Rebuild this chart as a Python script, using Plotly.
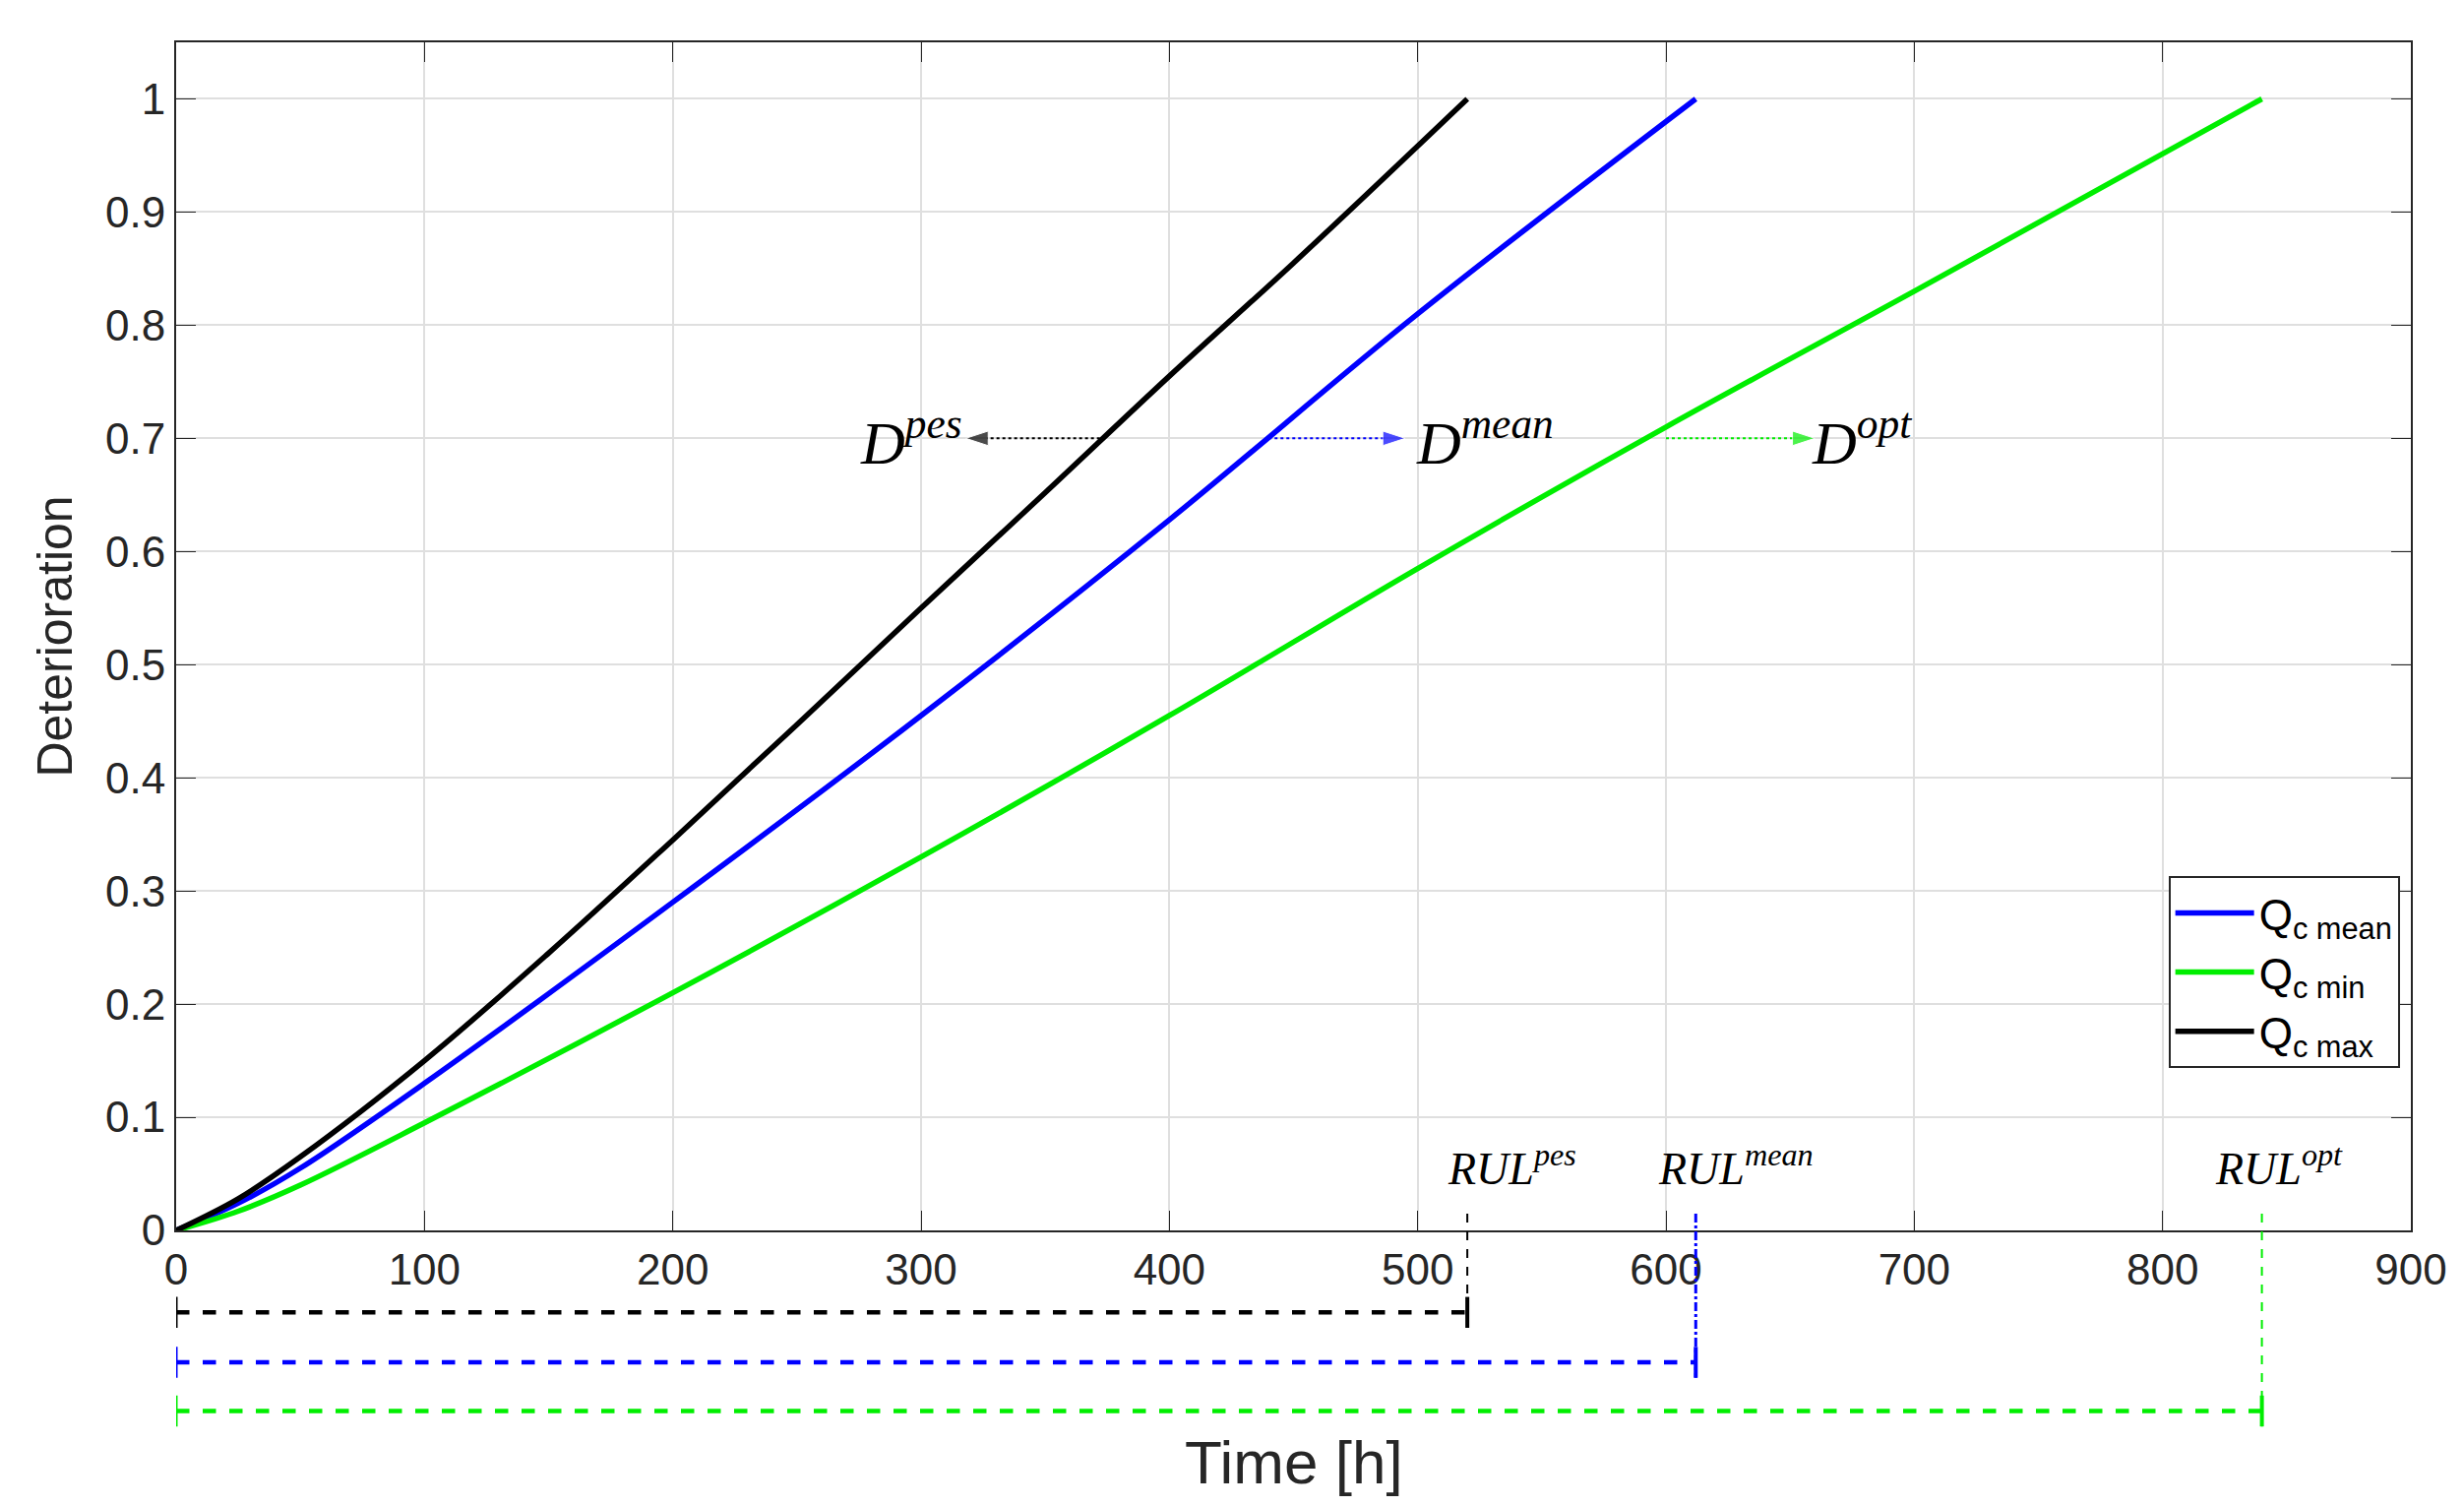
import plotly.graph_objects as go

x_max = [0, 25, 50, 100, 150, 200, 250, 300, 350, 400, 450, 520]
d_max = [0, 0.028, 0.065, 0.15, 0.245, 0.345, 0.447, 0.55, 0.652, 0.755, 0.855, 1.0]
x_mean = [0, 25, 50, 100, 200, 300, 400, 500, 612]
d_mean = [0, 0.024, 0.055, 0.13, 0.29, 0.455, 0.628, 0.81, 1.0]
x_min = [0, 25, 50, 100, 200, 300, 400, 500, 600, 700, 840]
d_min = [0, 0.017, 0.04, 0.095, 0.21, 0.33, 0.455, 0.585, 0.71, 0.83, 1.0]

rul_names = ["pes", "mean", "opt"]
rul_values = [520, 612, 840]
rul_colors = ["black", "blue", "#00ee00"]
rul_label_x = [538, 628, 847]
rul_bar_y = [-0.069, -0.111, -0.152]

d_labels = ["pes", "mean", "opt"]
d_arrow_from = [372, 440, 600]
d_arrow_to = [318, 495, 660]
d_text_x = [296, 527, 679]
d_level = 0.7

fig = go.Figure()
fig.add_trace(go.Scatter(x=x_mean, y=d_mean, mode="lines", line=dict(color="blue", width=5.5, shape="spline"),
                         name="Q<sub>c mean</sub>"))
fig.add_trace(go.Scatter(x=x_min, y=d_min, mode="lines", line=dict(color="#00ee00", width=5.5, shape="spline"),
                         name="Q<sub>c min</sub>"))
fig.add_trace(go.Scatter(x=x_max, y=d_max, mode="lines", line=dict(color="black", width=5.5, shape="spline"),
                         name="Q<sub>c max</sub>"))

serif = "Liberation Serif"
for name, a0, a1, tx, col in zip(d_labels, d_arrow_from, d_arrow_to, d_text_x, rul_colors):
    fig.add_trace(go.Scatter(x=[a0, a1], y=[d_level, d_level], mode="lines+markers", showlegend=False,
                             line=dict(color=col, width=2, dash="dot"),
                             marker=dict(symbol="arrow", angleref="previous", size=[0, 24], color=col)))
    fig.add_annotation(x=tx, y=d_level, text=f"<i>D<sup>{name}</sup></i>", showarrow=False,
                       font=dict(family=serif, size=62, color="black"), yshift=0)

shapes = []
for name, v, col, lx, by in zip(rul_names, rul_values, rul_colors, rul_label_x, rul_bar_y):
    fig.add_annotation(x=lx, y=0.057, text=f"<i>RUL<sup>{name}</sup></i>", showarrow=False,
                       font=dict(family=serif, size=46, color="black"))
    shapes.append(dict(type="line", xref="x", yref="paper", x0=v, x1=v, y0=0.014, y1=by - 0.013,
                       line=dict(color=col, width=2 if col != "blue" else 3,
                                 dash="dash" if col != "blue" else "dashdot")))
    shapes.append(dict(type="line", xref="x", yref="paper", x0=0, x1=v, y0=by, y1=by,
                       line=dict(color=col, width=4.5, dash="dash")))
    shapes.append(dict(type="line", xref="x", yref="paper", x0=0, x1=0, y0=by - 0.013, y1=by + 0.013,
                       line=dict(color=col, width=3)))
    shapes.append(dict(type="line", xref="x", yref="paper", x0=v, x1=v, y0=by - 0.013, y1=by + 0.013,
                       line=dict(color=col, width=4)))

fig.add_annotation(x=0.5, y=-0.225, xref="paper", yref="paper", text="Time [h]", showarrow=False,
                   font=dict(family="Liberation Sans", size=62, color="#262626"))

axcommon = dict(showline=True, linecolor="#262626", linewidth=2, mirror="ticks", ticks="inside",
                ticklen=20, tickcolor="#262626", showgrid=True, gridcolor="#dfdfdf", gridwidth=2,
                zeroline=False, tickfont=dict(family="Liberation Sans", size=44, color="#262626"))
fig.update_xaxes(range=[0, 900], dtick=100, **axcommon)
fig.update_yaxes(range=[0, 1.05], tickvals=[0, 0.1, 0.2, 0.3, 0.4, 0.5, 0.6, 0.7, 0.8, 0.9, 1],
                 ticktext=["0", "0.1", "0.2", "0.3", "0.4", "0.5", "0.6", "0.7", "0.8", "0.9", "1"],
                 title=dict(text="Deterioration", font=dict(family="Liberation Sans", size=50, color="#262626"),
                            standoff=18), **axcommon)

fig.update_layout(width=2504, height=1530, plot_bgcolor="white", paper_bgcolor="white",
                  margin=dict(l=171, r=62, t=35, b=288), shapes=shapes,
                  legend=dict(x=0.995, y=0.298, xanchor="right", yanchor="top", bgcolor="white",
                              bordercolor="#262626", borderwidth=2, itemwidth=80,
                              font=dict(family="Liberation Sans", size=44, color="black"),
                              tracegroupgap=4))
fig.write_html("out.html")
